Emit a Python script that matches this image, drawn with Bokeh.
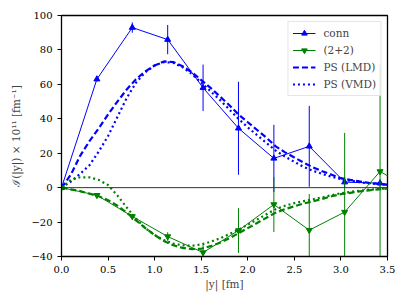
from bokeh.plotting import figure
from bokeh.models import Span, Legend, LegendItem, ColumnDataSource, FixedTicker
from bokeh.embed import file_html
from bokeh.resources import INLINE

# ---- data ----
conn_x = [0.0, 0.38, 0.76, 1.14, 1.52, 1.90, 2.28, 2.66, 3.04, 3.42, 3.80]
conn_y = [0.0, 63.0, 93.0, 86.0, 58.0, 34.5, 17.0, 24.0, 3.2, 2.6, -4.0]
conn_err = [0.0, 1.0, 3.0, 8.5, 13.5, 27.0, 19.5, 23.5, 3.0, 2.0, 2.0]

pp_x = [0.0, 0.38, 0.76, 1.14, 1.52, 1.90, 2.28, 2.66, 3.04, 3.42, 3.80]
pp_y = [0.0, -4.4, -16.7, -28.4, -37.7, -24.9, -9.8, -24.7, -14.2, 9.4, -2.5]
pp_err = [0.0, 1.0, 1.5, 2.5, 4.4, 13.0, 16.0, 21.0, 46.0, 62.0, 20.0]

ps_x = [0.0, 0.1, 0.2, 0.3, 0.4, 0.5, 0.6, 0.7, 0.8, 0.9, 1.0, 1.1, 1.2, 1.3, 1.4, 1.5, 1.6, 1.7,
        1.8, 1.9, 2.0, 2.1, 2.2, 2.3, 2.4, 2.5, 2.6, 2.7, 2.8, 2.9, 3.0, 3.1, 3.2, 3.3, 3.4, 3.5]
conn_lmd = [0, 7.5, 18.5, 27, 34.5, 42.5, 50, 57, 63, 67.5, 71, 73.3, 73, 70.5, 67, 62.5, 58, 53,
            48, 42.5, 38, 33.5, 29, 24, 20.5, 17.5, 14.5, 11.8, 9.5, 7.5, 5.5, 4.5, 3.6, 2.8, 2.2, 1.8]
conn_vmd = [0, 3.5, 8, 13, 21, 30, 41, 52, 61, 67, 71, 73, 72.5, 70, 66, 61, 56, 51,
            45.5, 40, 35, 30.5, 26, 21.5, 18, 15, 12, 9.8, 8, 6.3, 5, 4, 3.2, 2.5, 2, 1.6]
pp_lmd = [0, -1, -2, -3.5, -5, -7.3, -10.5, -14.5, -19, -23.5, -27.5, -31, -33.5, -35, -35.7, -35.5,
          -34, -32, -29.5, -26.5, -23.5, -20.5, -17.5, -14.5, -12.5, -10.8, -9.2, -8, -6.5, -5,
          -3.8, -3, -2.2, -1.6, -1, -0.5]
pp_vmd = [0, 4.5, 6, 6, 4.5, 1.5, -4.5, -11.5, -18, -23.5, -27.5, -30.5, -32.5, -33.5, -33.8, -33,
          -31.5, -29.5, -27, -24.5, -21.5, -18.5, -15.5, -12.5, -10.5, -9, -7.8, -6.8, -5.6, -4.4,
          -3.2, -2.5, -1.8, -1.2, -0.8, -0.4]

x_ticks = [0.0, 0.5, 1.0, 1.5, 2.0, 2.5, 3.0, 3.5]
y_ticks = [-40, -20, 0, 20, 40, 60, 80, 100]

BLUE = "#0000ff"
GREEN = "#008000"
FONT = "DejaVu Serif"

p = figure(width=399, height=297, output_backend="svg", toolbar_location=None,
           x_range=(0, 3.5), y_range=(-40, 100),
           frame_width=326, frame_height=241,
           min_border_left=61, min_border_right=12, min_border_top=15, min_border_bottom=41)
p.grid.visible = False
p.outline_line_color = "black"
p.outline_line_width = 1.3
p.background_fill_color = "white"
p.border_fill_color = "white"

for ax in (p.xaxis[0], p.yaxis[0]):
    ax.major_label_text_font = FONT
    ax.major_label_text_font_size = "10px"
    ax.axis_label_text_font = FONT
    ax.axis_label_text_font_size = "10.5px"
    ax.axis_label_text_font_style = "normal"
    ax.major_tick_in = 0
    ax.major_tick_out = 4
    ax.minor_tick_line_color = None
    ax.axis_line_color = "black"
    ax.major_tick_line_color = "black"
    ax.major_label_text_color = "black"

p.xaxis.ticker = FixedTicker(ticks=x_ticks)
p.xaxis.major_label_overrides = {t: f"{t:.1f}" for t in x_ticks}
p.yaxis.ticker = FixedTicker(ticks=y_ticks)
p.yaxis.major_label_overrides = {t: (f"\u2212{abs(t)}" if t < 0 else str(t)) for t in y_ticks}
p.xaxis.axis_label = "|y| [fm]"
p.yaxis.axis_label = "\u2110(|y|) \u00d7 10\u00b9\u00b9 [fm\u207b\u00b9]"
p.xaxis.axis_label_standoff = 2
p.yaxis.axis_label_standoff = 6

p.add_layout(Span(location=0, dimension="width", line_color="#333333", line_width=1))

# model curves
r_lmd = p.line(ps_x, conn_lmd, line_color=BLUE, line_width=2.2, line_dash="6 3")
r_vmd = p.line(ps_x, conn_vmd, line_color=BLUE, line_width=2.2, line_dash="2 3")
p.line(ps_x, pp_lmd, line_color=GREEN, line_width=2.2, line_dash="6 3")
p.line(ps_x, pp_vmd, line_color=GREEN, line_width=2.2, line_dash="2 3")

# conn data
src_c = ColumnDataSource(dict(x=conn_x, y=conn_y,
                              lo=[a - b for a, b in zip(conn_y, conn_err)],
                              hi=[a + b for a, b in zip(conn_y, conn_err)]))
r_cseg = p.segment("x", "lo", "x", "hi", source=src_c, line_color=BLUE, line_width=1)
r_cline = p.line("x", "y", source=src_c, line_color=BLUE, line_width=1)
r_cm = p.scatter("x", "y", source=src_c, marker="triangle", size=6,
                 fill_color=BLUE, line_color=BLUE)

# (2+2) data
src_p = ColumnDataSource(dict(x=pp_x, y=pp_y,
                              lo=[a - b for a, b in zip(pp_y, pp_err)],
                              hi=[a + b for a, b in zip(pp_y, pp_err)]))
r_pseg = p.segment("x", "lo", "x", "hi", source=src_p, line_color=GREEN, line_width=1)
r_pline = p.line("x", "y", source=src_p, line_color=GREEN, line_width=1)
r_pm = p.scatter("x", "y", source=src_p, marker="inverted_triangle", size=6,
                 fill_color=GREEN, line_color=GREEN)

legend = Legend(items=[
    LegendItem(label="conn", renderers=[r_cline, r_cm]),
    LegendItem(label="(2+2)", renderers=[r_pline, r_pm]),
    LegendItem(label="PS (LMD)", renderers=[r_lmd]),
    LegendItem(label="PS (VMD)", renderers=[r_vmd]),
], location="top_right")
legend.label_text_font = FONT
legend.label_text_font_size = "10.5px"
legend.glyph_width = 23
legend.glyph_height = 14
legend.label_height = 14
legend.spacing = 3
legend.padding = 4
legend.margin = 6
legend.label_standoff = 8
legend.border_line_color = "#cccccc"
legend.border_line_width = 1
legend.background_fill_alpha = 0.85
p.add_layout(legend)

open("out.html", "w").write(file_html(p, INLINE))
